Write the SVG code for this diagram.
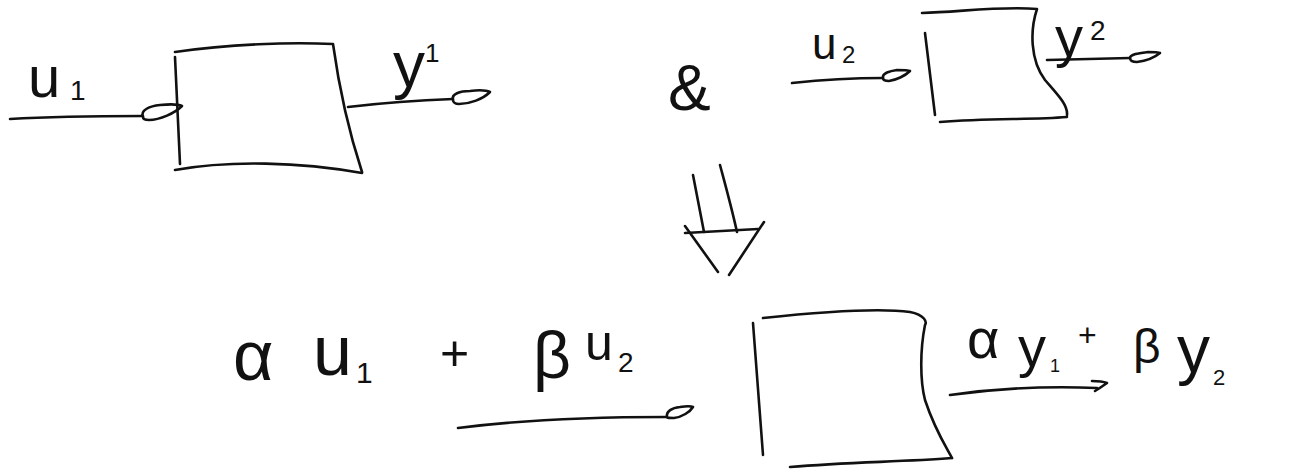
<svg xmlns="http://www.w3.org/2000/svg" width="1297" height="472" viewBox="0 0 1297 472">
<style>
.ink{fill:none;stroke:#111;stroke-width:2.6;stroke-linecap:round;stroke-linejoin:round}
.t{font-family:"Liberation Sans",Arial,sans-serif;fill:#111}
</style>
<rect width="1297" height="472" fill="#fff"/>
<g id="box1">
<path class="ink" d="M175,52 C230,44 290,42 333,44 C338,80 345,120 362,172"/>
<path class="ink" d="M175,170 C230,160 300,162 362,173"/>
<path class="ink" d="M175,57 L180,164"/>
</g>
<g id="box2">
<path class="ink" d="M922,13 C960,12 1000,6 1037,9 C1030,30 1030,60 1045,80 C1058,95 1068,105 1067,115"/>
<path class="ink" d="M940,122 C990,118 1030,120 1067,117"/>
<path class="ink" d="M925,33 L935,115"/>
</g>
<g id="box3">
<path class="ink" d="M763,318 C820,312 880,308 910,312 C925,315 927,322 925,325 C920,350 920,380 925,400 C935,430 945,445 952,458"/>
<path class="ink" d="M790,467 C850,462 900,462 952,458"/>
<path class="ink" d="M753,323 L763,455"/>
</g>
<g id="connectors">
<path class="ink" d="M10,119 C60,116 110,116 143,116"/>
<path class="ink" d="M143,117 C140,110 150,106 160,105 C170,104 178,104 182,106 C175,113 160,120 149,120 C145,120 143,119 143,117 Z"/>
<path class="ink" d="M348,107 C390,102 425,100 453,99"/>
<path class="ink" d="M453,100 C451,94 460,91 470,91 C478,90 486,90 490,92 C483,99 470,104 459,104 C455,104 453,102 453,100 Z"/>
<path class="ink" d="M792,83 C820,80 860,78 883,78"/>
<path class="ink" d="M883,78 C882,73 890,71 897,70 C903,70 908,70 910,71 C905,76 896,80 889,81 C886,81 883,80 883,78 Z"/>
<path class="ink" d="M1047,60 L1130,58"/>
<path class="ink" d="M1130,58 C1130,54 1140,53 1148,52 C1154,52 1158,52 1160,53 C1154,58 1145,61 1137,62 C1133,62 1130,61 1130,58 Z"/>
<path class="ink" d="M458,428 C520,420 600,417 667,417"/>
<path class="ink" d="M667,417 C666,411 672,408 680,407 C686,406 691,406 693,407 C690,412 682,417 674,418 C670,418 667,418 667,417 Z"/>
<path class="ink" d="M950,395 C1000,388 1050,386 1097,388"/>
<path class="ink" d="M1092,381 Q1102,381 1107,383 Q1100,388 1095,391"/>
<g id="implies">
<path class="ink" d="M693,175 L704,232"/>
<path class="ink" d="M720,165 C724,180 731,205 737,232"/>
<path class="ink" d="M685,233 L758,229"/>
<path class="ink" d="M685,226 L718,272"/>
<path class="ink" d="M764,222 L729,275"/>
</g>
</g>
<g id="labels">
<text class="t" font-size="58"><tspan x="28" y="97">u</tspan><tspan x="70" y="100" font-size="28">1</tspan></text>
<text class="t" font-size="64"><tspan x="393" y="87">y</tspan><tspan x="425" y="62" font-size="26">1</tspan></text>
<text class="t" x="668" y="110" font-size="64">&amp;</text>
<text class="t" font-size="44"><tspan x="812" y="59">u</tspan><tspan x="842" y="63" font-size="24">2</tspan></text>
<text class="t" font-size="56"><tspan x="1055" y="56">y</tspan><tspan x="1090" y="40" font-size="28">2</tspan></text>
<text class="t" font-size="70"><tspan x="233" y="380">α</tspan><tspan x="313" y="375">u</tspan><tspan x="356" y="383" font-size="30">1</tspan><tspan x="440" y="370" font-size="50">+</tspan><tspan x="533" y="378" font-size="66">β</tspan><tspan x="585" y="360" font-size="50">u</tspan><tspan x="618" y="372" font-size="28">2</tspan></text>
<text class="t" font-size="56"><tspan x="967" y="358">α</tspan><tspan x="1018" y="366">y</tspan><tspan x="1050" y="372" font-size="18">1</tspan><tspan x="1078" y="346" font-size="32">+</tspan><tspan x="1133" y="363" font-size="48">β</tspan><tspan x="1177" y="372" font-size="66">y</tspan><tspan x="1213" y="385" font-size="22">2</tspan></text>
</g>
</svg>
